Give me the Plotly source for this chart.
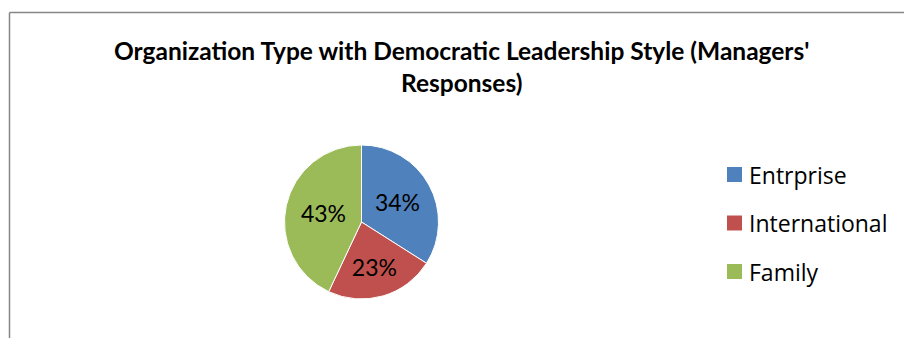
import plotly.graph_objects as go

# Survey shares by organization type
categories = ["Entrprise", "International", "Family"]
shares = [34, 23, 43]
colors = ["#4F81BD", "#C0504D", "#9BBB59"]
title_lines = ["Organization Type with Democratic Leadership Style (Managers'", "Responses)"]

W, H = 904, 338
TITLE_FONT = "Lato, sans-serif"
LABEL_FONT = "Lato, sans-serif"
LEGEND_FONT = "Open Sans, sans-serif"

# pie geometry in pixels -> paper domain
cx, cy, r = 361.5, 222.0, 77.0
dom_x = [(cx - r) / W, (cx + r) / W]
dom_y = [(H - cy - r) / H, (H - cy + r) / H]

fig = go.Figure(
    go.Pie(
        labels=categories,
        values=shares,
        sort=False,
        direction="clockwise",
        rotation=0,
        marker=dict(colors=colors, line=dict(color="white", width=1)),
        textinfo="percent",
        texttemplate="%{percent:.0%}",
        textposition="inside",
        insidetextorientation="horizontal",
        textfont=dict(family=LABEL_FONT, size=23, color="black"),
        domain=dict(x=dom_x, y=dom_y),
        showlegend=False,
        hoverinfo="label+percent",
    )
)

shapes = [
    # chart frame (left and top edges visible)
    dict(type="line", xref="paper", yref="paper", x0=9.5 / W, x1=9.5 / W, y0=0, y1=(H - 12.5) / H,
         line=dict(color="#868686", width=1.5)),
    dict(type="line", xref="paper", yref="paper", x0=9.5 / W, x1=1, y0=(H - 12.5) / H, y1=(H - 12.5) / H,
         line=dict(color="#868686", width=1.5)),
]

annotations = [
    dict(text="<b>" + "<br>".join(title_lines) + "</b>", xref="paper", yref="paper",
         x=461 / W, y=(H - 34) / H, xanchor="center", yanchor="top", showarrow=False,
         font=dict(family=TITLE_FONT, size=24.5, color="black"), align="center"),
]

# legend: colored squares with labels
leg_x, leg_y0, leg_gap, sq = 727, 174.5, 48.5, 15
for i, (name, col) in enumerate(zip(categories, colors)):
    yc = leg_y0 + i * leg_gap
    shapes.append(dict(type="rect", xref="paper", yref="paper",
                       x0=leg_x / W, x1=(leg_x + sq) / W,
                       y0=(H - yc - sq / 2) / H, y1=(H - yc + sq / 2) / H,
                       fillcolor=col, line=dict(width=0)))
    annotations.append(dict(text=name, xref="paper", yref="paper",
                            x=(leg_x + sq + 5) / W, y=(H - yc) / H,
                            xanchor="left", yanchor="middle", showarrow=False,
                            font=dict(family=LEGEND_FONT, size=23, color="black")))

fig.update_layout(
    width=W, height=H,
    margin=dict(l=0, r=0, t=0, b=0),
    paper_bgcolor="white", plot_bgcolor="white",
    shapes=shapes, annotations=annotations,
)

fig.write_html("out.html")
